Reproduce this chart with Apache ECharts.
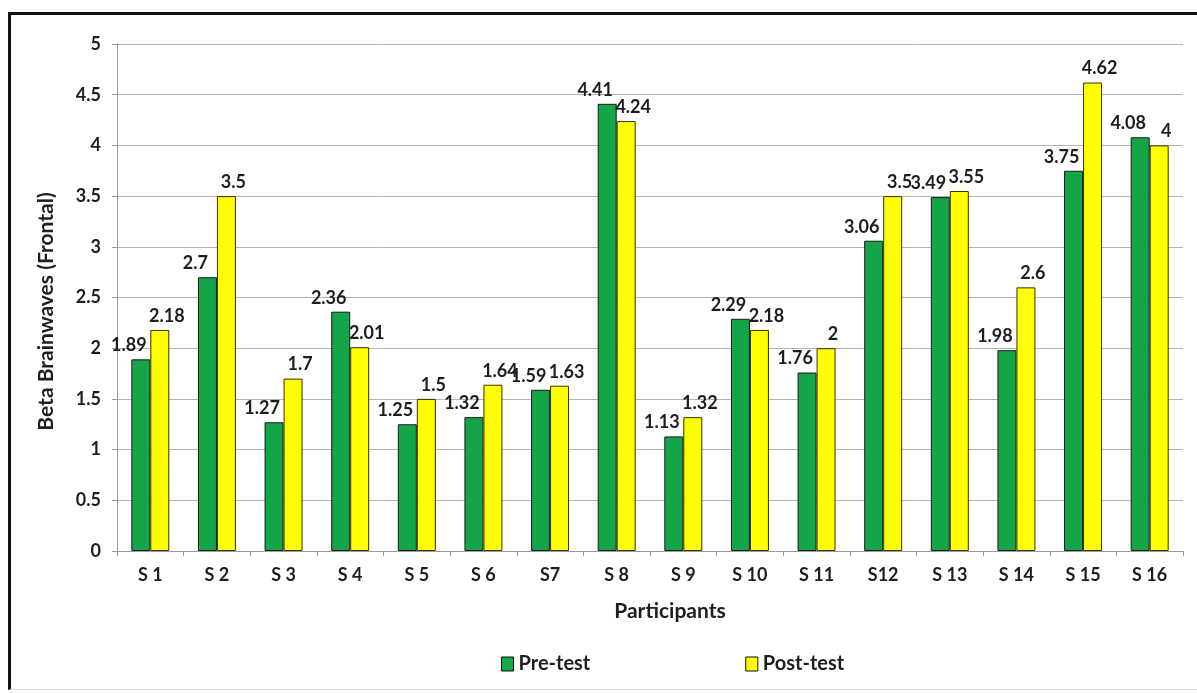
<!DOCTYPE html>
<html>
<head>
<meta charset="utf-8">
<script src="https://cdn.jsdelivr.net/npm/echarts@6/dist/echarts.min.js"></script>
<style>
  html, body { margin: 0; padding: 0; background: #fff; }
  #frame {
    position: absolute; left: 8px; top: 12px; width: 1200px; height: 678px;
    border-left: 3px solid #111; border-top: 3px solid #111;
    border-bottom: 1px solid #ddd; box-sizing: border-box;
  }
  #chart { position: absolute; left: 0; top: 0; width: 1197px; height: 693px; }
</style>
</head>
<body>
<div id="frame"></div>
<div id="chart"></div>
<script>
// Participants and their frontal beta brainwave readings
const participants = ["S 1", "S 2", "S 3", "S 4", "S 5", "S 6", "S7", "S 8",
                      "S 9", "S 10", "S 11", "S12", "S 13", "S 14", "S 15", "S 16"];
const preTest  = [1.89, 2.7, 1.27, 2.36, 1.25, 1.32, 1.59, 4.41, 1.13, 2.29, 1.76, 3.06, 3.49, 1.98, 3.75, 4.08];
const postTest = [2.18, 3.5, 1.7, 2.01, 1.5, 1.64, 1.63, 4.24, 1.32, 2.18, 2, 3.5, 3.55, 2.6, 4.62, 4];
const yTicks = [0, 0.5, 1, 1.5, 2, 2.5, 3, 3.5, 4, 4.5, 5];

const FONT = 'Lato, "Open Sans", sans-serif';
const TEXT = '#1e1e1e';
const GREEN = '#13a548';
const YELLOW = '#ffff00';

const chart = echarts.init(document.getElementById('chart'), null, { renderer: 'canvas' });

const labelStyle = {
  show: true,
  position: 'top',
  distance: 5,
  fontFamily: FONT,
  fontWeight: 'bold',
  fontSize: 18,
  color: TEXT
};

chart.setOption({
  animation: false,
  backgroundColor: 'transparent',
  textStyle: { fontFamily: FONT },
  grid: { left: 117, right: 14, top: 44, bottom: 142, containLabel: false },
  legend: {
    top: 649,
    left: 496,
    itemGap: 155,
    itemWidth: 12,
    itemHeight: 14,
    icon: 'rect',
    textStyle: { fontFamily: FONT, fontWeight: 'bold', fontSize: 20, color: TEXT },
    data: [
      { name: 'Pre-test', itemStyle: { color: GREEN, borderColor: '#111', borderWidth: 1 } },
      { name: 'Post-test', itemStyle: { color: YELLOW, borderColor: '#111', borderWidth: 1 } }
    ]
  },
  xAxis: {
    type: 'category',
    data: participants,
    name: 'Participants',
    nameLocation: 'middle',
    nameGap: 50,
    nameTextStyle: {
      fontFamily: FONT, fontWeight: 'bold', fontSize: 21, color: TEXT,
      padding: [0, 0, 0, 40]
    },
    axisLine: { lineStyle: { color: '#9a9a9a', width: 1 } },
    axisTick: { show: true, length: 5, lineStyle: { color: '#9a9a9a' } },
    axisLabel: { margin: 15, fontFamily: FONT, fontWeight: 'bold', fontSize: 18, color: TEXT }
  },
  yAxis: {
    type: 'value',
    min: yTicks[0],
    max: yTicks[yTicks.length - 1],
    interval: 0.5,
    name: 'Beta Brainwaves (Frontal)',
    nameLocation: 'middle',
    nameGap: 60,
    nameTextStyle: {
      fontFamily: FONT, fontWeight: 'bold', fontSize: 21, color: TEXT,
      padding: [0, 28, 0, 0]
    },
    axisLine: { show: true, lineStyle: { color: '#9a9a9a', width: 1 } },
    axisTick: { show: true, length: 5, lineStyle: { color: '#9a9a9a' } },
    axisLabel: { margin: 16, fontFamily: FONT, fontWeight: 'bold', fontSize: 18, color: TEXT },
    splitLine: { lineStyle: { color: '#b4b4b4', width: 1 } }
  },
  series: [
    {
      name: 'Pre-test',
      type: 'bar',
      data: preTest,
      barGap: '0%',
      barCategoryGap: '43%',
      itemStyle: { color: GREEN, borderColor: '#1a1a1a', borderWidth: 1 },
      label: Object.assign({}, labelStyle, { offset: [-12, 0] })
    },
    {
      name: 'Post-test',
      type: 'bar',
      data: postTest,
      itemStyle: { color: YELLOW, borderColor: '#3a3000', borderWidth: 1 },
      label: Object.assign({}, labelStyle, { offset: [7, 0] })
    }
  ]
});
</script>
</body>
</html>
